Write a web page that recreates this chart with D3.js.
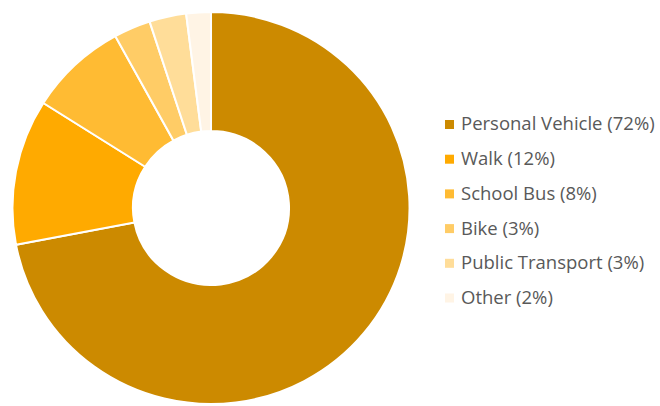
<!DOCTYPE html>
<html lang="en">
<head>
  <meta charset="UTF-8" />
  <title>Mode of transport to school</title>
  <script src="https://d3js.org/d3.v7.min.js"></script>
  <style>
    body { margin: 0; background: #fff; }
    svg { display: block; font-family: "Open Sans", sans-serif; }
  </style>
</head>
<body>
  <svg id="chart" width="660" height="406"></svg>

  <script>
    const categories = ["Personal Vehicle", "Walk", "School Bus", "Bike", "Public Transport", "Other"];
    const values = [72, 12, 8, 3, 3, 2];
    const colors = ["#cc8a00", "#ffaa00", "#ffbb33", "#ffcc66", "#ffdd99", "#fff4e5"];

    const svg = d3.select("#chart");

    const cx = 211, cy = 208;
    const outerR = 196, innerR = 77;

    const data = categories.map((c, i) => ({ name: c, value: values[i], color: colors[i] }));

    const pie = d3.pie().sort(null).value(d => d.value);
    const arc = d3.arc().innerRadius(innerR).outerRadius(outerR);

    const g = svg.append("g")
      .attr("transform", `translate(${cx},${cy}) scale(1.013,1)`);

    g.selectAll("path")
      .data(pie(data))
      .join("path")
      .attr("d", arc)
      .attr("fill", d => d.data.color)
      .attr("stroke", "#fff")
      .attr("stroke-width", 2);

    const legend = svg.append("g").attr("transform", "translate(445,124)");

    const rows = legend.selectAll("g")
      .data(data)
      .join("g")
      .attr("transform", (d, i) => `translate(0,${i * 34.7})`);

    rows.append("rect")
      .attr("x", 0)
      .attr("y", -4)
      .attr("width", 9)
      .attr("height", 9)
      .attr("fill", d => d.color);

    rows.append("text")
      .attr("x", 16)
      .attr("y", 0)
      .attr("dy", "0.35em")
      .attr("fill", "#595959")
      .style("font-size", "18.5px")
      .text(d => `${d.name} (${d.value}%)`);
  </script>
</body>
</html>
